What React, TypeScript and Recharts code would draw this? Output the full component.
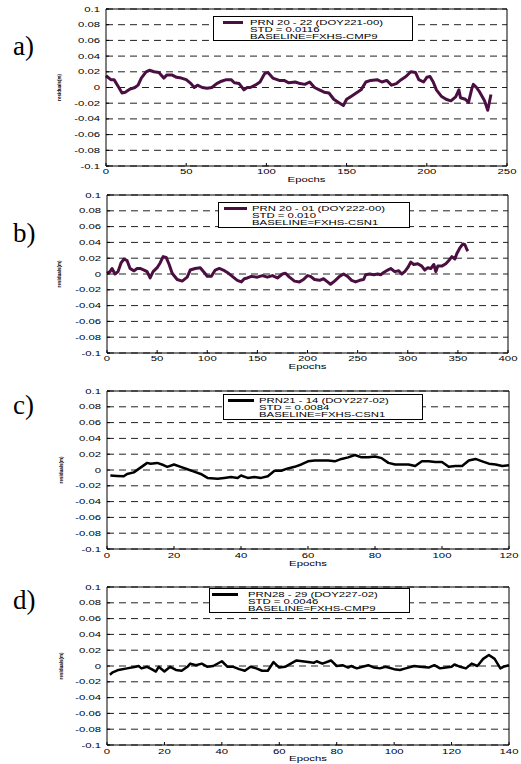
import React from 'react';
import { CartesianGrid, Legend, Line, LineChart, XAxis, YAxis } from 'recharts';

// residual series
const A_EPOCH = [0, 3, 5, 8, 10, 12, 15, 18, 20, 22, 25, 27, 30, 33, 36, 38, 41, 44, 47, 50, 53, 55, 57, 60, 63, 66, 69, 72, 75, 78, 80, 83, 86, 88, 90, 93, 96, 99, 101, 104, 108, 111, 114, 118, 121, 124, 127, 130, 133, 136, 139, 142, 145, 148, 150, 153, 156, 159, 162, 165, 169, 172, 175, 178, 181, 184, 187, 190, 193, 195, 198, 200, 202, 204, 206, 209, 212, 215, 218, 220, 221, 224, 226, 228, 229, 231, 233, 236, 238, 240];
const A_RES = [0.015, 0.01, 0.01, 0, -0.007, -0.006, -0.002, 0, 0.003, 0.012, 0.02, 0.022, 0.02, 0.019, 0.012, 0.016, 0.016, 0.013, 0.012, 0.01, 0.005, 0, 0.003, 0, -0.001, 0, 0.005, 0.008, 0.01, 0.01, 0.006, 0.005, -0.003, 0, 0, 0.003, 0.007, 0.018, 0.019, 0.012, 0.009, 0.009, 0.006, 0.007, 0.005, 0.004, 0.007, 0, -0.003, -0.006, -0.007, -0.015, -0.019, -0.023, -0.015, -0.011, -0.007, -0.003, 0.007, 0.009, 0.01, 0.007, 0.009, 0.003, 0.005, 0.01, 0.014, 0.02, 0.019, 0.01, 0.007, 0.013, 0.014, 0.007, -0.003, -0.011, -0.015, -0.017, -0.012, -0.003, -0.013, -0.015, -0.019, -0.002, 0.004, 0, -0.006, -0.017, -0.029, -0.009];

const B_EPOCH = [0, 3, 5, 8, 11, 14, 17, 20, 23, 27, 30, 33, 37, 40, 43, 46, 50, 53, 56, 59, 62, 65, 70, 75, 80, 83, 88, 93, 97, 100, 104, 108, 112, 116, 120, 125, 130, 134, 137, 140, 144, 150, 155, 160, 165, 170, 175, 178, 182, 187, 192, 196, 200, 203, 207, 212, 216, 220, 223, 227, 232, 236, 240, 244, 248, 252, 256, 258, 262, 266, 270, 273, 276, 280, 283, 287, 291, 294, 297, 300, 303, 306, 310, 314, 317, 320, 323, 326, 328, 330, 334, 338, 341, 344, 347, 349, 352, 355, 357, 359, 360];
const B_RES = [0.001, 0.003, 0.007, 0, 0.003, 0.014, 0.019, 0.017, 0.007, 0.004, 0.007, 0.007, 0.005, 0.003, -0.005, 0.003, 0.008, 0.014, 0.022, 0.021, 0.012, 0.001, -0.007, -0.009, -0.004, 0.005, 0.007, 0.008, 0.002, -0.003, -0.003, 0.005, 0.007, 0.005, 0.002, -0.003, -0.008, -0.01, -0.006, -0.005, -0.003, -0.004, -0.002, -0.004, -0.002, -0.005, 0, 0.001, -0.004, -0.009, -0.01, -0.007, -0.002, -0.003, -0.007, -0.008, -0.006, -0.01, -0.013, -0.009, -0.003, 0, -0.003, -0.008, -0.01, -0.008, -0.007, -0.001, 0, -0.001, 0, -0.001, 0.002, 0.005, 0.007, 0.003, 0.004, 0, 0.003, 0.008, 0.015, 0.012, 0.013, 0.01, 0.005, 0.008, 0.007, 0.012, 0.003, 0.01, 0.01, 0.013, 0.017, 0.022, 0.019, 0.026, 0.033, 0.038, 0.037, 0.031, 0.029];

const C_EPOCH = [1, 3, 5, 6, 8, 10, 12, 13, 15, 17, 18, 20, 22, 24, 26, 28, 30, 33, 35, 37, 39, 40, 42, 44, 46, 48, 50, 52, 54, 56, 58, 60, 62, 64, 66, 68, 70, 72, 74, 76, 78, 80, 82, 84, 86, 88, 90, 92, 94, 96, 98, 100, 102, 104, 106, 108, 110, 112, 114, 116, 118, 120];
const C_RES = [-0.007, -0.0075, -0.008, -0.005, -0.003, 0.003, 0.009, 0.008, 0.009, 0.006, 0.004, 0.007, 0.004, 0.001, -0.002, -0.005, -0.01, -0.011, -0.01, -0.009, -0.01, -0.007, -0.01, -0.009, -0.01, -0.008, -0.001, -0.001, 0.002, 0.004, 0.007, 0.011, 0.012, 0.012, 0.012, 0.011, 0.014, 0.016, 0.019, 0.016, 0.016, 0.017, 0.015, 0.009, 0.007, 0.007, 0.007, 0.005, 0.011, 0.011, 0.01, 0.01, 0.004, 0.005, 0.005, 0.012, 0.014, 0.011, 0.008, 0.007, 0.005, 0.006];

const D_EPOCH = [1, 2, 4, 7, 10, 11, 12, 14, 16, 17, 18, 20, 22, 23, 24, 26, 28, 29, 31, 33, 35, 37, 40, 42, 44, 46, 48, 50, 52, 54, 56, 58, 60, 62, 64, 66, 68, 70, 72, 73, 75, 78, 80, 82, 84, 85, 87, 89, 91, 93, 95, 97, 100, 102, 104, 107, 109, 112, 114, 116, 118, 120, 121, 123, 125, 127, 129, 131, 133, 135, 137, 138, 140];
const D_RES = [-0.011, -0.008, -0.005, -0.003, -0.001, 0, -0.003, -0.001, -0.005, -0.007, -0.001, -0.007, -0.001, -0.003, -0.005, -0.006, -0.001, 0.003, 0.001, 0.003, -0.001, 0, 0.006, -0.001, -0.001, -0.004, -0.006, -0.001, -0.003, -0.006, -0.006, 0.005, -0.002, -0.001, 0.003, 0.007, 0.006, 0.005, 0.004, 0.006, 0.003, 0.007, 0, 0.001, -0.002, 0, -0.003, -0.001, 0.001, -0.002, -0.003, -0.001, -0.004, -0.005, -0.003, 0, -0.001, -0.002, 0.001, -0.003, -0.002, -0.001, 0.002, -0.001, -0.003, 0.003, 0, 0.009, 0.014, 0.009, -0.003, -0.001, 0.001];

const A_TICKS = [0, 50, 100, 150, 200, 250];
const B_TICKS = [0, 50, 100, 150, 200, 250, 300, 350, 400];
const C_TICKS = [0, 20, 40, 60, 80, 100, 120];
const D_TICKS = [0, 20, 40, 60, 80, 100, 120, 140];
const Y_TICKS = [-0.1, -0.08, -0.06, -0.04, -0.02, 0, 0.02, 0.04, 0.06, 0.08, 0.1];

const A_LEGEND = ['PRN 20 - 22 (DOY221-00)', 'STD = 0.0116', 'BASELINE=FXHS-CMP9'];
const B_LEGEND = ['PRN 20 - 01 (DOY222-00)', 'STD = 0.010', 'BASELINE=FXHS-CSN1'];
const C_LEGEND = ['PRN21 - 14 (DOY227-02)', 'STD = 0.0084', 'BASELINE=FXHS-CSN1'];
const D_LEGEND = ['PRN28 - 29 (DOY227-02)', 'STD = 0.0046', 'BASELINE=FXHS-CMP9'];

const PANEL_NAMES = ['a)', 'b)', 'c)', 'd)'];

const SANS = "'Liberation Sans', Arial, Helvetica, sans-serif";
const STRETCH = 1.62;
const PURPLE = '#4a0f40';

const fmtY = (v: number) => {
  const r = Math.round(v * 100) / 100;
  return r === 0 ? '0' : String(r);
};

function StretchTick(props: any) {
  const { x, y, payload, textAnchor, axis } = props;
  const label = axis === 'y' ? fmtY(payload.value) : String(payload.value);
  return (
    <text
      x={x}
      y={y}
      dy={axis === 'y' ? '0.36em' : '0.71em'}
      textAnchor={textAnchor}
      fontSize={7}
      fontFamily={SANS}
      fill="#000"
      transform={`translate(${x} ${y}) scale(${STRETCH} 1) translate(${-x} ${-y})`}
    >
      {label}
    </text>
  );
}

function EpochLabel(props: any) {
  const { viewBox, off } = props;
  if (!viewBox) return null;
  const cx = viewBox.x + viewBox.width / 2;
  const cy = viewBox.y + off + 2.5;
  return (
    <text
      x={cx}
      y={cy}
      textAnchor="middle"
      fontSize={7}
      fontFamily={SANS}
      fill="#000"
      transform={`translate(${cx} ${cy}) scale(${STRETCH} 1) translate(${-cx} ${-cy})`}
    >
      Epochs
    </text>
  );
}

function ResidualLabel(props: any) {
  const { viewBox, px } = props;
  if (!viewBox) return null;
  const cy = viewBox.y + viewBox.height / 2;
  return (
    <text
      transform={`translate(${px} ${cy}) rotate(-90)`}
      textAnchor="middle"
      fontSize={4.5}
      fontWeight="bold"
      fontFamily={SANS}
      fill="#000"
    >
      residuals(m)
    </text>
  );
}

function LegendBox({ lines, color, lw, box }: any) {
  return (
    <div
      style={{
        position: 'relative',
        width: box.w,
        height: box.h,
        border: '1px solid #000',
        background: '#fff',
        boxSizing: 'border-box',
      }}
    >
      <div
        style={{
          position: 'absolute',
          left: box.sx,
          top: 5.5 - lw / 2,
          width: box.sw,
          height: lw,
          background: color,
        }}
      />
      {lines.map((t: string, i: number) => (
        <div
          key={t}
          style={{
            position: 'absolute',
            left: box.tx,
            top: 2 + i * 7,
            fontSize: 7,
            lineHeight: '7px',
            fontFamily: SANS,
            whiteSpace: 'nowrap',
            color: '#000',
            transform: `scaleX(${STRETCH})`,
            transformOrigin: 'left top',
          }}
        >
          {t}
        </div>
      ))}
    </div>
  );
}

const PANELS = [
  {
    xs: A_EPOCH, ys: A_RES, ticks: A_TICKS, legend: A_LEGEND, color: PURPLE, lw: 3,
    top: 0, plotTop: 9, plotBottom: 166, plotLeft: 106, plotRight: 507,
    tickOff: 6, epochOff: 14, ylabX: 61, letterY: 55,
    box: { x: 213, y: 16, w: 200, h: 25, sx: 9, sw: 20, tx: 36 },
  },
  {
    xs: B_EPOCH, ys: B_RES, ticks: B_TICKS, legend: B_LEGEND, color: PURPLE, lw: 3,
    top: 185, plotTop: 195, plotBottom: 353, plotLeft: 107, plotRight: 508,
    tickOff: 5.5, epochOff: 14, ylabX: 61, letterY: 242,
    box: { x: 218, y: 202, w: 192, h: 26, sx: 5, sw: 23, tx: 33 },
  },
  {
    xs: C_EPOCH, ys: C_RES, ticks: C_TICKS, legend: C_LEGEND, color: '#000', lw: 2.5,
    top: 380, plotTop: 391, plotBottom: 549, plotLeft: 107, plotRight: 509,
    tickOff: 7, epochOff: 15, ylabX: 63, letterY: 414,
    box: { x: 223, y: 394, w: 200, h: 26, sx: 4, sw: 26, tx: 35 },
  },
  {
    xs: D_EPOCH, ys: D_RES, ticks: D_TICKS, legend: D_LEGEND, color: '#000', lw: 2.5,
    top: 576, plotTop: 587, plotBottom: 745, plotLeft: 107, plotRight: 509,
    tickOff: 7, epochOff: 14, ylabX: 63, letterY: 609,
    box: { x: 209, y: 588, w: 201, h: 25, sx: 2, sw: 26, tx: 38 },
  },
];

function Panel({ p }: { p: (typeof PANELS)[number] }) {
  const data = p.xs.map((x, i) => ({ x, y: p.ys[i] }));
  const h = p.plotBottom - p.top + 22;
  const xMax = p.ticks[p.ticks.length - 1];
  return (
    <div style={{ position: 'absolute', left: 0, top: p.top }}>
      <LineChart
        width={521}
        height={h}
        data={data}
        margin={{
          top: p.plotTop - p.top - 2,
          right: 521 - p.plotRight - 2,
          bottom: h - (p.plotBottom - p.top) - 20,
          left: p.plotLeft - 46,
        }}
      >
        <CartesianGrid vertical={false} stroke="#222" strokeDasharray="7 5" />
        <XAxis
          dataKey="x"
          type="number"
          domain={[0, xMax]}
          ticks={p.ticks}
          interval={0}
          height={20}
          tickSize={-3}
          tickMargin={p.tickOff + 0.5}
          axisLine={{ stroke: '#000' }}
          tickLine={{ stroke: '#000' }}
          tick={<StretchTick axis="x" />}
          label={<EpochLabel off={p.epochOff} />}
        />
        <XAxis
          xAxisId="top"
          orientation="top"
          dataKey="x"
          type="number"
          domain={[0, xMax]}
          ticks={p.ticks}
          interval={0}
          height={2}
          tickSize={-3}
          axisLine={{ stroke: '#000' }}
          tickLine={{ stroke: '#000' }}
          tick={false}
        />
        <YAxis
          type="number"
          domain={[-0.1, 0.1]}
          ticks={Y_TICKS}
          interval={0}
          width={46}
          tickSize={-3}
          tickMargin={9}
          axisLine={{ stroke: '#000' }}
          tickLine={{ stroke: '#000' }}
          tick={<StretchTick axis="y" />}
          label={<ResidualLabel px={p.ylabX} />}
        />
        <YAxis
          yAxisId="right"
          orientation="right"
          type="number"
          domain={[-0.1, 0.1]}
          ticks={Y_TICKS}
          interval={0}
          width={2}
          tickSize={-3}
          axisLine={{ stroke: '#000' }}
          tickLine={{ stroke: '#000' }}
          tick={false}
        />
        <Legend
          layout="vertical"
          align="center"
          verticalAlign="middle"
          wrapperStyle={{ left: p.box.x, top: p.box.y - p.top, width: p.box.w, height: p.box.h }}
          content={() => <LegendBox lines={p.legend} color={p.color} lw={p.lw} box={p.box} />}
        />
        <Line
          dataKey="y"
          type="linear"
          stroke={p.color}
          strokeWidth={p.lw}
          strokeLinejoin="round"
          dot={false}
          isAnimationActive={false}
        />
      </LineChart>
    </div>
  );
}

export default function App() {
  return (
    <div style={{ position: 'absolute', left: 0, top: 0, width: 521, height: 764, background: '#fff', overflow: 'hidden' }}>
      {PANELS.map((p) => (
        <Panel key={p.top} p={p} />
      ))}
      <svg width={60} height={764} style={{ position: 'absolute', left: 0, top: 0 }}>
        {PANELS.map((p, i) => (
          <text key={i} x={13} y={p.letterY} fontFamily="'Liberation Serif', 'Times New Roman', serif" fontSize={27} fill="#000">
            {PANEL_NAMES[i]}
          </text>
        ))}
      </svg>
    </div>
  );
}
